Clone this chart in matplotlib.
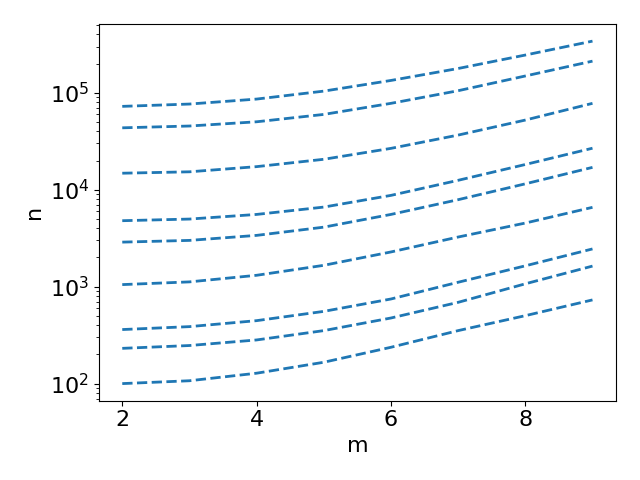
import numpy as np
import matplotlib
matplotlib.use('Agg')
import matplotlib.pyplot as plt

# m values on the x axis
m = [2, 3, 4, 5, 6, 7, 8, 9]

# n values for each curve, top to bottom
n1 = [72400, 76500, 86100, 104000, 134000, 178000, 245000, 341000]
n2 = [43500, 45400, 50200, 59800, 77800, 105000, 149000, 212000]
n3 = [14800, 15300, 17300, 20600, 26700, 36600, 52300, 77800]
n4 = [4790, 4980, 5560, 6620, 8740, 12500, 18200, 26800]
n5 = [2880, 3000, 3380, 4110, 5560, 7890, 11500, 17000]
n6 = [1050, 1120, 1310, 1660, 2280, 3250, 4530, 6580]
n7 = [361, 387, 446, 556, 746, 1110, 1640, 2450]
n8 = [231, 247, 282, 352, 475, 689, 1070, 1630]
n9 = [100, 107, 128, 166, 237, 352, 502, 730]

curves = [n1, n2, n3, n4, n5, n6, n7, n8, n9]

plt.rcParams['font.size'] = 16

fig, ax = plt.subplots(figsize=(6.4, 4.8), dpi=100)

# every curve is the same dashed blue line
for n in curves:
    ax.plot(m, n, '--', color='C0', linewidth=2)

ax.set_yscale('log')
ax.set_xlabel('m')
ax.set_ylabel('n')

fig.tight_layout()
fig.savefig('out.png')
